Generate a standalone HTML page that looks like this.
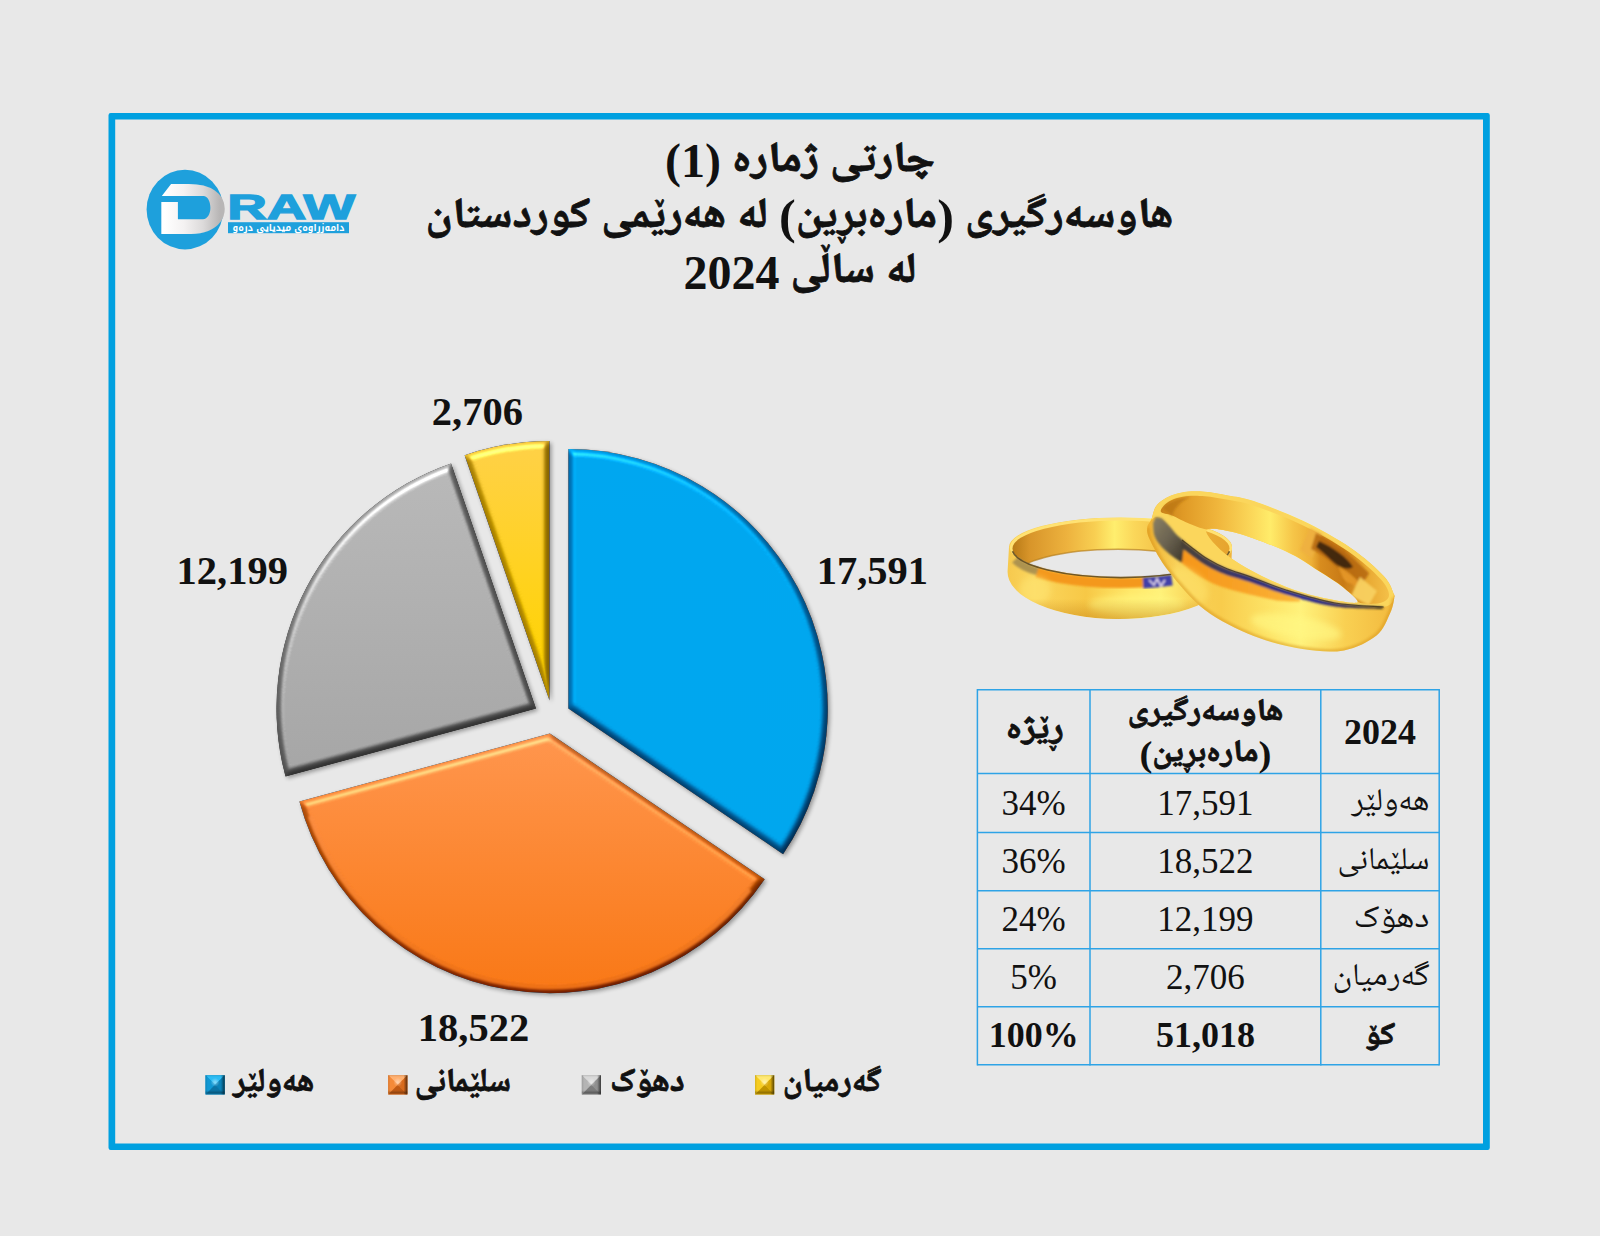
<!DOCTYPE html>
<html lang="ckb"><head><meta charset="utf-8"><title>چارتی ژمارە (1)</title>
<style>
html,body{margin:0;padding:0;background:#e8e8e8;}
body{width:1600px;height:1236px;overflow:hidden;position:relative;}
svg{position:absolute;left:0;top:0;display:block}
text{font-family:"Liberation Serif","Noto Naskh Arabic","DejaVu Sans",serif;fill:#111;}
.b{font-weight:bold}
.ab{font-weight:bold;stroke:#111;stroke-width:.8px;stroke-linejoin:round}
.ns{stroke:none}
</style></head><body>
<svg width="1600" height="1236" viewBox="0 0 1600 1236">
<defs>

<linearGradient id="gB" x1="0" y1="0" x2="0" y2="1"><stop offset="0" stop-color="#05a9f0"/><stop offset="1" stop-color="#05a9ee"/></linearGradient>
<linearGradient id="gO" gradientUnits="userSpaceOnUse" x1="0" y1="733.6" x2="0" y2="993.1"><stop offset="0" stop-color="#ff9956"/><stop offset="1" stop-color="#f97b1e"/></linearGradient>
<linearGradient id="gG" x1="0" y1="0" x2="0" y2="1"><stop offset="0" stop-color="#b9b9b9"/><stop offset="1" stop-color="#a6a6a6"/></linearGradient>
<linearGradient id="gY" x1="0" y1="0" x2="0" y2="1"><stop offset="0" stop-color="#ffd24f"/><stop offset="1" stop-color="#ffd400"/></linearGradient>
<filter id="bev0" x="-10%" y="-10%" width="125%" height="125%" color-interpolation-filters="sRGB">
<feGaussianBlur in="SourceAlpha" stdDeviation="3" result="bl"/>
<feDiffuseLighting in="bl" surfaceScale="5.5" diffuseConstant="1" lighting-color="#fff" result="dif"><feDistantLight azimuth="240" elevation="60"/></feDiffuseLighting>
<feSpecularLighting in="bl" surfaceScale="5.5" specularConstant="0.42" specularExponent="8" lighting-color="#d0f4ff" result="sp"><feDistantLight azimuth="255" elevation="40"/></feSpecularLighting>
<feComposite in="SourceGraphic" in2="dif" operator="arithmetic" k1="0.612" k2="0.47" k3="0" k4="0" result="lit"/>
<feFlood flood-color="#000" result="blk"/><feMerge result="spo"><feMergeNode in="blk"/><feMergeNode in="sp"/></feMerge>
<feComposite in="lit" in2="spo" operator="arithmetic" k1="0" k2="1" k3="1" k4="-0.191" result="lit2"/>
<feComposite in="lit2" in2="SourceAlpha" operator="in" result="fin"/>
<feGaussianBlur in="SourceAlpha" stdDeviation="2" result="sh"/>
<feOffset in="sh" dx="1.6" dy="2.2" result="sho"/>
<feComponentTransfer in="sho" result="sha"><feFuncA type="linear" slope="0.36"/></feComponentTransfer>
<feMerge><feMergeNode in="sha"/><feMergeNode in="fin"/></feMerge>
</filter><filter id="bev1" x="-10%" y="-10%" width="125%" height="125%" color-interpolation-filters="sRGB">
<feGaussianBlur in="SourceAlpha" stdDeviation="3" result="bl"/>
<feDiffuseLighting in="bl" surfaceScale="5.5" diffuseConstant="1" lighting-color="#fff" result="dif"><feDistantLight azimuth="240" elevation="60"/></feDiffuseLighting>
<feSpecularLighting in="bl" surfaceScale="5.5" specularConstant="0.45" specularExponent="8" lighting-color="#fff0d8" result="sp"><feDistantLight azimuth="255" elevation="40"/></feSpecularLighting>
<feComposite in="SourceGraphic" in2="dif" operator="arithmetic" k1="0.462" k2="0.6" k3="0" k4="0" result="lit"/>
<feFlood flood-color="#000" result="blk"/><feMerge result="spo"><feMergeNode in="blk"/><feMergeNode in="sp"/></feMerge>
<feComposite in="lit" in2="spo" operator="arithmetic" k1="0" k2="1" k3="1" k4="-0.205" result="lit2"/>
<feComposite in="lit2" in2="SourceAlpha" operator="in" result="fin"/>
<feGaussianBlur in="SourceAlpha" stdDeviation="2" result="sh"/>
<feOffset in="sh" dx="1.6" dy="2.2" result="sho"/>
<feComponentTransfer in="sho" result="sha"><feFuncA type="linear" slope="0.36"/></feComponentTransfer>
<feMerge><feMergeNode in="sha"/><feMergeNode in="fin"/></feMerge>
</filter><filter id="bev2" x="-10%" y="-10%" width="125%" height="125%" color-interpolation-filters="sRGB">
<feGaussianBlur in="SourceAlpha" stdDeviation="3" result="bl"/>
<feDiffuseLighting in="bl" surfaceScale="5.5" diffuseConstant="1" lighting-color="#fff" result="dif"><feDistantLight azimuth="240" elevation="60"/></feDiffuseLighting>
<feSpecularLighting in="bl" surfaceScale="5.5" specularConstant="0.62" specularExponent="8" lighting-color="#ffffff" result="sp"><feDistantLight azimuth="255" elevation="40"/></feSpecularLighting>
<feComposite in="SourceGraphic" in2="dif" operator="arithmetic" k1="0.370" k2="0.68" k3="0" k4="0" result="lit"/>
<feFlood flood-color="#000" result="blk"/><feMerge result="spo"><feMergeNode in="blk"/><feMergeNode in="sp"/></feMerge>
<feComposite in="lit" in2="spo" operator="arithmetic" k1="0" k2="1" k3="1" k4="-0.282" result="lit2"/>
<feComposite in="lit2" in2="SourceAlpha" operator="in" result="fin"/>
<feGaussianBlur in="SourceAlpha" stdDeviation="2" result="sh"/>
<feOffset in="sh" dx="1.6" dy="2.2" result="sho"/>
<feComponentTransfer in="sho" result="sha"><feFuncA type="linear" slope="0.36"/></feComponentTransfer>
<feMerge><feMergeNode in="sha"/><feMergeNode in="fin"/></feMerge>
</filter><filter id="bev3" x="-10%" y="-10%" width="125%" height="125%" color-interpolation-filters="sRGB">
<feGaussianBlur in="SourceAlpha" stdDeviation="3" result="bl"/>
<feDiffuseLighting in="bl" surfaceScale="5.5" diffuseConstant="1" lighting-color="#fff" result="dif"><feDistantLight azimuth="240" elevation="60"/></feDiffuseLighting>
<feSpecularLighting in="bl" surfaceScale="5.5" specularConstant="0.5" specularExponent="8" lighting-color="#fffbe0" result="sp"><feDistantLight azimuth="255" elevation="40"/></feSpecularLighting>
<feComposite in="SourceGraphic" in2="dif" operator="arithmetic" k1="0.462" k2="0.6" k3="0" k4="0" result="lit"/>
<feFlood flood-color="#000" result="blk"/><feMerge result="spo"><feMergeNode in="blk"/><feMergeNode in="sp"/></feMerge>
<feComposite in="lit" in2="spo" operator="arithmetic" k1="0" k2="1" k3="1" k4="-0.228" result="lit2"/>
<feComposite in="lit2" in2="SourceAlpha" operator="in" result="fin"/>
<feGaussianBlur in="SourceAlpha" stdDeviation="2" result="sh"/>
<feOffset in="sh" dx="1.6" dy="2.2" result="sho"/>
<feComponentTransfer in="sho" result="sha"><feFuncA type="linear" slope="0.36"/></feComponentTransfer>
<feMerge><feMergeNode in="sha"/><feMergeNode in="fin"/></feMerge>
</filter>
<filter id="cb" x="-5%" y="-5%" width="110%" height="110%"><feGaussianBlur stdDeviation="0.9"/></filter>
<linearGradient id="mkr" x1="0" y1="0" x2="1" y2="0"><stop offset="0" stop-color="#000" stop-opacity=".12"/><stop offset=".12" stop-color="#000" stop-opacity="0"/><stop offset=".8" stop-color="#000" stop-opacity="0"/><stop offset="1" stop-color="#000" stop-opacity=".6"/></linearGradient>
<linearGradient id="mkb" x1="0" y1="0" x2="0" y2="1"><stop offset="0" stop-color="#000" stop-opacity=".1"/><stop offset=".1" stop-color="#000" stop-opacity="0"/><stop offset=".78" stop-color="#000" stop-opacity="0"/><stop offset=".9" stop-color="#000" stop-opacity=".22"/><stop offset="1" stop-color="#000" stop-opacity=".05"/></linearGradient>
<radialGradient id="mkh"><stop offset="0" stop-color="#fff" stop-opacity=".45"/><stop offset="1" stop-color="#fff" stop-opacity="0"/></radialGradient>
<linearGradient id="dg" x1="0" y1="0" x2="1" y2="0"><stop offset="0" stop-color="#ffffff"/><stop offset="0.35" stop-color="#f4f2f2"/><stop offset="0.7" stop-color="#dcdada"/><stop offset="1" stop-color="#b8b6b6"/></linearGradient>

</defs>
<rect width="1600" height="1236" fill="#e8e8e8"/>
<path fill="#00a0e0" fill-rule="evenodd" d="M110.7,113 H1487.6 a2.2,2.2 0 0 1 2.2,2.2 V1147.8 a2.2,2.2 0 0 1 -2.2,2.2 H110.7 a2.2,2.2 0 0 1 -2.2,-2.2 V115.2 a2.2,2.2 0 0 1 2.2,-2.2 Z M115.2,119.5 V1143.5 H1483 V119.5 Z"/>
<g>
<ellipse cx="185" cy="209.6" rx="38.4" ry="39.8" fill="#1ea0dc"/>
<text x="164.4" y="227.5" font-size="55.7" textLength="55.2" lengthAdjust="spacingAndGlyphs" style="font-family:'Liberation Sans','DejaVu Sans',sans-serif;font-weight:bold;fill:url(#dg);stroke:url(#dg);stroke-width:12px;stroke-linejoin:miter">D</text>
<path d="M158,181 L173.4,181 L161.8,196 L158,196 Z M158,196 H177.9 V202.1 H158 Z M177.9,196 L203.5,196 C207.5,196 210.4,201.5 210.4,207.8 C210.4,213.5 207.5,219.3 203,219.3 L177.9,219.3 Z" fill="#1ea0dc"/>
<text x="227.2" y="219.2" font-size="35.8" textLength="128" lengthAdjust="spacingAndGlyphs" style="font-family:'Liberation Sans','DejaVu Sans',sans-serif;font-weight:bold;fill:#1ea0dc;stroke:#1ea0dc;stroke-width:1.3px;stroke-linejoin:miter">RAW</text>
<rect x="228" y="222.2" width="121" height="11" fill="#1ea0dc"/>
<text x="288.5" y="230.6" font-size="9.5" text-anchor="middle" direction="rtl" textLength="112" lengthAdjust="spacingAndGlyphs" style="font-family:'Noto Kufi Arabic','Noto Sans Arabic','DejaVu Sans',sans-serif;font-weight:bold;fill:#fff">دامەزراوەی میدیایی درەو</text>
</g>
<g class="ab" font-size="42.5" text-anchor="middle" direction="rtl">
<text x="833.5" y="170.8" textLength="203" lengthAdjust="spacingAndGlyphs">چارتی ژمارە</text>
<text x="799.5" y="226.6" textLength="748" lengthAdjust="spacingAndGlyphs"><tspan>هاوسەرگیری </tspan><tspan class="ns" font-size="48" dy="6.2">(</tspan><tspan dy="-6.2">مارەبڕین</tspan><tspan class="ns" font-size="48" dy="6.2">)</tspan><tspan dy="-6.2"> لە هەرێمی کوردستان</tspan></text>
<text x="853.5" y="282.4" textLength="126" lengthAdjust="spacingAndGlyphs">لە ساڵی</text>
</g>
<text x="693" y="177" font-size="48" text-anchor="middle" class="b">(1)</text>
<text x="731.6" y="288.6" font-size="48" text-anchor="middle" class="b">2024</text>

<path d="M568.3,708.6 L568.3,449.1 A259.5,259.5 0 0 1 783.1,854.2 Z" fill="url(#gB)" filter="url(#bev0)"/>
<path d="M549.9,733.6 L764.7,879.2 A259.5,259.5 0 0 1 299.4,801.5 Z" fill="url(#gO)" filter="url(#bev1)"/>
<path d="M536.0,708.6 L285.5,776.5 A259.5,259.5 0 0 1 451.1,463.4 Z" fill="url(#gG)" filter="url(#bev2)"/>
<path d="M549.5,700.4 L464.6,455.2 A259.5,259.5 0 0 1 549.5,440.9 Z" fill="url(#gY)" filter="url(#bev3)"/>
<path d="M749.7,889.7 A253.6,253.6 0 0 1 310.1,816.2" fill="none" stroke="url(#gO)" stroke-width="4.6" opacity="0.8" filter="url(#cb)"/>

<text x="872.4" y="583.5" font-size="40.5" text-anchor="middle" class="b">17,591</text>
<text x="473.5" y="1040.7" font-size="40.5" text-anchor="middle" class="b">18,522</text>
<text x="232.2" y="583.7" font-size="40.5" text-anchor="middle" class="b">12,199</text>
<text x="477.4" y="424.6" font-size="40.5" text-anchor="middle" class="b">2,706</text>

<g><rect x="205.5" y="1075.2" width="19.2" height="19.2" fill="#1098d4"/><path d="M205.5,1075.2 L224.7,1075.2 L215.1,1084.8Z" fill="#2cbcf4"/><path d="M205.5,1075.2 L215.1,1084.8 L205.5,1094.4Z" fill="#1098d4"/><path d="M224.7,1075.2 L224.7,1094.4 L215.1,1084.8Z" fill="#0b82b8"/><path d="M205.5,1094.4 L215.1,1084.8 L224.7,1094.4Z" fill="#0a74a6"/><rect x="205.5" y="1075.2" width="19.2" height="19.2" fill="url(#mkr)"/><rect x="205.5" y="1075.2" width="19.2" height="19.2" fill="url(#mkb)"/><circle cx="215.1" cy="1082.3" r="4.5" fill="url(#mkh)"/></g>
<text x="273.8" y="1090.7" font-size="33" text-anchor="middle" direction="rtl" class="ab" textLength="81.3" lengthAdjust="spacingAndGlyphs">هەولێر</text>
<g><rect x="388.2" y="1075.2" width="19.2" height="19.2" fill="#f58a38"/><path d="M388.2,1075.2 L407.4,1075.2 L397.8,1084.8Z" fill="#ffb070"/><path d="M388.2,1075.2 L397.8,1084.8 L388.2,1094.4Z" fill="#f58a38"/><path d="M407.4,1075.2 L407.4,1094.4 L397.8,1084.8Z" fill="#d86a1c"/><path d="M388.2,1094.4 L397.8,1084.8 L407.4,1094.4Z" fill="#c05a14"/><rect x="388.2" y="1075.2" width="19.2" height="19.2" fill="url(#mkr)"/><rect x="388.2" y="1075.2" width="19.2" height="19.2" fill="url(#mkb)"/><circle cx="397.8" cy="1082.3" r="4.5" fill="url(#mkh)"/></g>
<text x="462.9" y="1090.7" font-size="33" text-anchor="middle" direction="rtl" class="ab" textLength="96.4" lengthAdjust="spacingAndGlyphs">سلێمانی</text>
<g><rect x="581.8" y="1075.2" width="19.2" height="19.2" fill="#b4b4b4"/><path d="M581.8,1075.2 L601.0,1075.2 L591.4,1084.8Z" fill="#d8d8d8"/><path d="M581.8,1075.2 L591.4,1084.8 L581.8,1094.4Z" fill="#b4b4b4"/><path d="M601.0,1075.2 L601.0,1094.4 L591.4,1084.8Z" fill="#909090"/><path d="M581.8,1094.4 L591.4,1084.8 L601.0,1094.4Z" fill="#7c7c7c"/><rect x="581.8" y="1075.2" width="19.2" height="19.2" fill="url(#mkr)"/><rect x="581.8" y="1075.2" width="19.2" height="19.2" fill="url(#mkb)"/><circle cx="591.4" cy="1082.3" r="4.5" fill="url(#mkh)"/></g>
<text x="647.4" y="1090.7" font-size="33" text-anchor="middle" direction="rtl" class="ab" textLength="74.8" lengthAdjust="spacingAndGlyphs">دهۆک</text>
<g><rect x="755" y="1075.2" width="19.2" height="19.2" fill="#f6cc20"/><path d="M755,1075.2 L774.2,1075.2 L764.6,1084.8Z" fill="#ffe870"/><path d="M755,1075.2 L764.6,1084.8 L755,1094.4Z" fill="#f6cc20"/><path d="M774.2,1075.2 L774.2,1094.4 L764.6,1084.8Z" fill="#d8a808"/><path d="M755,1094.4 L764.6,1084.8 L774.2,1094.4Z" fill="#c09400"/><rect x="755" y="1075.2" width="19.2" height="19.2" fill="url(#mkr)"/><rect x="755" y="1075.2" width="19.2" height="19.2" fill="url(#mkb)"/><circle cx="764.6" cy="1082.3" r="4.5" fill="url(#mkh)"/></g>
<text x="832.1" y="1090.7" font-size="33" text-anchor="middle" direction="rtl" class="ab" textLength="98.8" lengthAdjust="spacingAndGlyphs">گەرمیان</text>

<g><defs>
<filter id="rb1" x="-10%" y="-10%" width="120%" height="120%"><feGaussianBlur stdDeviation="1.1"/></filter>
<filter id="rb2" x="-20%" y="-20%" width="140%" height="140%"><feGaussianBlur stdDeviation="3"/></filter>
<linearGradient id="lg1" x1="0" y1="0" x2="1" y2="0"><stop offset="0" stop-color="#f6c94e"/><stop offset=".12" stop-color="#fbd65e"/><stop offset=".35" stop-color="#f7c846"/><stop offset=".55" stop-color="#ffe96a"/><stop offset=".68" stop-color="#fff27a"/><stop offset=".85" stop-color="#f8cf52"/><stop offset="1" stop-color="#f0b43a"/></linearGradient>
<linearGradient id="lg2" x1="0" y1="0" x2="1" y2="0"><stop offset="0" stop-color="#b87a16"/><stop offset=".08" stop-color="#d8952a"/><stop offset=".25" stop-color="#edb23e"/><stop offset=".38" stop-color="#f8cf52"/><stop offset=".47" stop-color="#ffee6e"/><stop offset=".56" stop-color="#fbd75a"/><stop offset=".75" stop-color="#f0b83e"/><stop offset="1" stop-color="#e6a42e"/></linearGradient>
<linearGradient id="lgv" x1="0" y1="0" x2="0" y2="1"><stop offset="0" stop-color="#000" stop-opacity="0"/><stop offset=".8" stop-color="#c07a10" stop-opacity="0"/><stop offset="1" stop-color="#c07a10" stop-opacity=".45"/></linearGradient>
<linearGradient id="rg1" x1="0" y1="0" x2="1" y2="0"><stop offset="0" stop-color="#efb030"/><stop offset=".12" stop-color="#f9d25a"/><stop offset=".3" stop-color="#f8cc4c"/><stop offset=".5" stop-color="#fde468"/><stop offset=".62" stop-color="#fff27c"/><stop offset=".8" stop-color="#f9d052"/><stop offset="1" stop-color="#f2b93e"/></linearGradient>
<linearGradient id="rg2" x1="0" y1="0" x2="1" y2="0"><stop offset="0" stop-color="#c9821a"/><stop offset=".1" stop-color="#e09a26"/><stop offset=".25" stop-color="#f0b63c"/><stop offset=".4" stop-color="#fbd85a"/><stop offset=".48" stop-color="#ffec6a"/><stop offset=".58" stop-color="#f6c548"/><stop offset=".66" stop-color="#eeb038"/><stop offset=".7" stop-color="#d88c1e"/><stop offset=".8" stop-color="#c87a16"/><stop offset=".9" stop-color="#e8a832"/><stop offset="1" stop-color="#f4c048"/></linearGradient>
<linearGradient id="og" gradientUnits="userSpaceOnUse" x1="1180" y1="0" x2="1300" y2="0"><stop offset="0" stop-color="#f6961a"/><stop offset=".5" stop-color="#f8a226"/><stop offset="1" stop-color="#fbb63a"/></linearGradient>
<linearGradient id="gs" x1="0" y1="0" x2="1" y2="1"><stop offset="0" stop-color="#8a8064"/><stop offset=".5" stop-color="#6a6250"/><stop offset="1" stop-color="#3a3428"/></linearGradient>
<linearGradient id="bl" x1="0" y1="0" x2="1" y2="0"><stop offset="0" stop-color="#4a4234"/><stop offset=".3" stop-color="#3a3570"/><stop offset=".65" stop-color="#2a2890"/><stop offset="1" stop-color="#3a3020"/></linearGradient>
</defs>
<clipPath id="lclip"><path d="M1009,547 A111.5,29.6 0 0 1 1232,547 L1231,573 A111.5,47 0 0 1 1007.6,571 Z"/></clipPath>
<clipPath id="lU"><ellipse cx="1121" cy="548" rx="109" ry="29"/></clipPath>
<g>
<path d="M1009,547 A111.5,29.6 0 0 1 1232,547 L1231,573 A111.5,47 0 0 1 1007.6,571 Z" fill="url(#lg1)"/>
<g clip-path="url(#lclip)">
<ellipse cx="1121" cy="547.4" rx="111.2" ry="30" fill="#ffe273"/>
<ellipse cx="1121" cy="548.6" rx="108.5" ry="28.2" fill="url(#lg2)"/>
<g clip-path="url(#lU)"><ellipse cx="1118" cy="577.4" rx="104" ry="28.2" fill="#e8e8e8"/>
<ellipse cx="1118" cy="577.4" rx="104" ry="28.2" fill="none" stroke="#b8801e" stroke-width="1.6" opacity=".7"/></g>
<g filter="url(#rb1)">
<path d="M1015,554.8 A109,29 0 0 0 1040,567.4" fill="none" stroke="#ad9350" stroke-width="8" transform="translate(0,5)"/>
<path d="M1037,566.5 A109,29 0 0 0 1146,576.2" fill="none" stroke="#f4981c" stroke-width="10" transform="translate(0,6)"/>
<path d="M1143,576.4 A109,29 0 0 0 1172,573.6" fill="none" stroke="#4340a8" stroke-width="11" transform="translate(0,6.5)"/>
<path d="M1149,580 l5,5 l3,-6 l4,7 l4,-6" fill="none" stroke="#e8dcf0" stroke-width="1.6"/>
</g>
<path d="M1012.5,550.8 A109,29 0 0 0 1229.5,550.8" fill="none" stroke="#4e3c1c" stroke-width="1.7" opacity=".8" transform="translate(0,.5)"/>
<ellipse cx="1136" cy="605" rx="48" ry="10" fill="#fff680" opacity=".6" filter="url(#rb2)"/>
<ellipse cx="1035" cy="590" rx="16" ry="14" fill="#ffe878" opacity=".5" filter="url(#rb2)"/>
<path d="M1009,547 A111.5,29.6 0 0 1 1232,547 L1231,573 A111.5,47 0 0 1 1007.6,571 Z" fill="url(#lgv)"/>
</g></g>
<g>
<clipPath id="rclip"><path d="M1151.5,519.0 C1152.9,515.5 1153.5,510.2 1155.5,507.0 C1157.5,503.8 1160.4,501.6 1163.5,499.5 C1166.6,497.4 1169.9,495.8 1174.0,494.5 C1178.1,493.2 1182.8,492.1 1188.0,491.6 C1193.2,491.2 1198.3,491.2 1205.0,491.8 C1211.7,492.4 1219.9,493.9 1228.0,495.5 C1236.1,497.1 1241.3,496.9 1253.7,501.1 C1266.1,505.3 1286.2,512.8 1302.5,520.6 C1318.8,528.5 1337.7,539.0 1351.2,548.2 C1364.7,557.4 1376.6,568.3 1383.7,575.9 C1390.8,583.5 1391.9,590.0 1393.7,593.7 C1395.5,597.4 1394.9,594.8 1394.3,598.0 C1393.7,601.2 1393.2,606.8 1390.2,613.0 C1387.2,619.2 1384.2,629.3 1376.5,635.5 C1368.8,641.7 1356.3,648.1 1344.0,650.4 C1331.7,652.6 1317.5,651.4 1302.5,649.0 C1287.5,646.6 1270.0,642.5 1253.7,636.0 C1237.5,629.5 1219.2,620.8 1205.0,610.0 C1190.8,599.2 1177.6,582.5 1168.5,571.0 C1159.4,559.5 1154.0,548.2 1150.5,541.0 C1147.0,533.8 1147.0,531.7 1147.2,528.0 C1147.4,524.3 1150.1,522.5 1151.5,519.0Z M1207.0,529.5 C1210.6,527.5 1224.3,529.5 1237.5,533.2 C1250.7,536.9 1272.7,545.2 1286.2,551.5 C1299.7,557.8 1309.2,565.0 1318.7,571.0 C1328.2,577.0 1336.5,582.0 1343.0,587.2 C1349.5,592.4 1359.0,599.8 1357.7,602.0 C1356.4,604.2 1344.2,601.8 1335.0,600.2 C1325.8,598.6 1313.3,596.0 1302.5,592.6 C1291.7,589.2 1280.8,585.0 1270.0,580.0 C1259.2,575.0 1246.5,568.2 1237.5,562.5 C1228.5,556.8 1221.1,551.0 1216.0,545.5 C1210.9,540.0 1203.4,531.5 1207.0,529.5Z" clip-rule="evenodd"/></clipPath>
<path d="M1151.5,519.0 C1152.9,515.5 1153.5,510.2 1155.5,507.0 C1157.5,503.8 1160.4,501.6 1163.5,499.5 C1166.6,497.4 1169.9,495.8 1174.0,494.5 C1178.1,493.2 1182.8,492.1 1188.0,491.6 C1193.2,491.2 1198.3,491.2 1205.0,491.8 C1211.7,492.4 1219.9,493.9 1228.0,495.5 C1236.1,497.1 1241.3,496.9 1253.7,501.1 C1266.1,505.3 1286.2,512.8 1302.5,520.6 C1318.8,528.5 1337.7,539.0 1351.2,548.2 C1364.7,557.4 1376.6,568.3 1383.7,575.9 C1390.8,583.5 1391.9,590.0 1393.7,593.7 C1395.5,597.4 1394.9,594.8 1394.3,598.0 C1393.7,601.2 1393.2,606.8 1390.2,613.0 C1387.2,619.2 1384.2,629.3 1376.5,635.5 C1368.8,641.7 1356.3,648.1 1344.0,650.4 C1331.7,652.6 1317.5,651.4 1302.5,649.0 C1287.5,646.6 1270.0,642.5 1253.7,636.0 C1237.5,629.5 1219.2,620.8 1205.0,610.0 C1190.8,599.2 1177.6,582.5 1168.5,571.0 C1159.4,559.5 1154.0,548.2 1150.5,541.0 C1147.0,533.8 1147.0,531.7 1147.2,528.0 C1147.4,524.3 1150.1,522.5 1151.5,519.0Z M1207.0,529.5 C1210.6,527.5 1224.3,529.5 1237.5,533.2 C1250.7,536.9 1272.7,545.2 1286.2,551.5 C1299.7,557.8 1309.2,565.0 1318.7,571.0 C1328.2,577.0 1336.5,582.0 1343.0,587.2 C1349.5,592.4 1359.0,599.8 1357.7,602.0 C1356.4,604.2 1344.2,601.8 1335.0,600.2 C1325.8,598.6 1313.3,596.0 1302.5,592.6 C1291.7,589.2 1280.8,585.0 1270.0,580.0 C1259.2,575.0 1246.5,568.2 1237.5,562.5 C1228.5,556.8 1221.1,551.0 1216.0,545.5 C1210.9,540.0 1203.4,531.5 1207.0,529.5Z" fill="url(#rg1)" fill-rule="evenodd"/>
<g clip-path="url(#rclip)">
<path d="M1151.5,519.0 C1151.5,517.4 1153.5,510.2 1155.5,507.0 C1157.5,503.8 1160.4,501.6 1163.5,499.5 C1166.6,497.4 1169.9,495.8 1174.0,494.5 C1178.1,493.2 1182.8,492.1 1188.0,491.6 C1193.2,491.2 1198.3,491.2 1205.0,491.8 C1211.7,492.4 1219.9,493.9 1228.0,495.5 C1236.1,497.1 1241.3,496.9 1253.7,501.1 C1266.1,505.3 1286.2,512.8 1302.5,520.6 C1318.8,528.5 1337.7,539.0 1351.2,548.2 C1364.7,557.4 1376.6,568.3 1383.7,575.9 C1390.8,583.5 1393.7,588.5 1393.7,593.7 C1393.7,598.9 1393.5,605.5 1383.7,607.0 C1373.9,608.5 1351.3,605.8 1335.0,603.0 C1318.7,600.2 1300.2,594.4 1286.0,590.0 C1271.8,585.6 1259.8,580.1 1250.0,576.6 C1240.2,573.1 1234.0,571.7 1227.0,568.8 C1220.0,565.9 1213.7,562.8 1207.7,559.1 C1201.7,555.5 1195.0,549.9 1191.0,546.9 C1187.0,543.9 1186.1,543.2 1183.7,541.1 C1181.3,539.0 1178.8,537.0 1176.4,534.5 C1174.0,532.0 1171.5,528.4 1169.1,525.8 C1166.7,523.1 1164.0,520.1 1161.8,518.6 C1159.6,517.1 1157.4,516.8 1155.7,516.9 C1154.0,517.0 1151.5,520.6 1151.5,519.0Z" fill="#fbd65c"/>
<path d="M1161.0,512.0 C1159.8,510.2 1162.8,506.7 1165.0,504.5 C1167.2,502.3 1170.2,500.4 1174.0,499.0 C1177.8,497.6 1182.8,496.5 1188.0,496.0 C1193.2,495.5 1198.3,495.6 1205.0,496.2 C1211.7,496.8 1220.0,498.2 1228.0,499.8 C1236.0,501.4 1240.8,501.4 1253.0,505.5 C1265.2,509.6 1285.0,516.8 1301.0,524.5 C1317.0,532.2 1335.8,543.0 1349.0,552.0 C1362.2,561.0 1373.3,571.3 1380.0,578.5 C1386.7,585.7 1389.0,590.9 1389.0,595.0 C1389.0,599.1 1385.2,601.8 1380.0,603.0 C1374.8,604.2 1363.9,604.6 1357.7,602.0 C1351.5,599.4 1349.5,592.4 1343.0,587.2 C1336.5,582.0 1328.2,577.0 1318.7,571.0 C1309.2,565.0 1299.7,557.8 1286.2,551.5 C1272.7,545.2 1250.7,536.9 1237.5,533.2 C1224.3,529.5 1214.9,531.0 1207.0,529.5 C1199.1,528.0 1195.8,526.3 1190.0,524.0 C1184.2,521.7 1176.8,517.5 1172.0,515.5 C1167.2,513.5 1162.2,513.8 1161.0,512.0Z" fill="url(#rg2)"/>
<g filter="url(#rb1)">
<path d="M1310,528 L1322,534 L1312,558 L1300,550 Z" fill="#eeb040" opacity=".9"/>
<path d="M1316,533 C1332,541 1352,556 1369,573 C1366,581 1358,587 1350,585 C1344,571 1328,557 1311,549 Z" fill="#b4660f" opacity=".85"/>
<path d="M1319,541 C1334,548 1347,557 1353,567 C1347,571 1338,567 1332,561 C1326,555 1320,550 1316,547Z" fill="#2e1c0c" opacity=".85"/>
<path d="M1338,566 C1346,570 1356,578 1362,586 C1356,588 1348,584 1343,578Z" fill="#e89a28" opacity=".9"/>
<path d="M1360,577 L1377,591 L1369,605 L1351,596 Z" fill="#f8d060" opacity=".95"/>
<path d="M1163,508 C1168,502 1178,498 1190,497 C1180,502 1174,508 1172,516 Z" fill="#b87414" opacity=".7"/>
</g>
<g filter="url(#rb1)">
<path d="M1181.0,548.5 C1182.4,549.4 1185.3,551.0 1189.5,553.9 C1193.7,556.8 1200.2,562.2 1206.2,565.7 C1212.2,569.2 1218.5,572.1 1225.5,574.8 C1232.5,577.5 1238.7,578.6 1248.5,581.8 C1258.3,585.0 1275.9,591.2 1284.5,594.2 C1293.1,597.2 1297.4,598.6 1300.0,599.5 L1300.0,601.5 C1296.7,601.4 1287.8,601.8 1280.0,600.8 C1272.2,599.8 1260.5,596.8 1253.3,595.2 C1246.1,593.6 1242.8,592.9 1236.8,591.2 C1230.8,589.6 1223.9,587.9 1217.4,585.3 C1210.9,582.7 1204.2,579.5 1198.0,575.6 C1191.8,571.7 1183.4,564.3 1180.5,562.0Z" fill="url(#og)"/>
<path d="M1155.7,516.9 C1156.7,517.2 1159.6,517.1 1161.8,518.6 C1164.0,520.1 1166.7,523.1 1169.1,525.8 C1171.5,528.4 1173.8,531.9 1176.4,534.5 C1179.0,537.1 1183.2,540.4 1184.5,541.6 L1182.0,562.6 C1180.5,561.6 1176.2,559.0 1172.8,556.4 C1169.4,553.8 1164.8,550.3 1161.8,546.9 C1158.8,543.5 1156.0,540.0 1154.6,536.0 C1153.1,532.0 1153.3,525.1 1153.1,522.9Z" fill="url(#gs)"/>
<path d="M1182.0,540.0 C1183.5,541.1 1186.7,543.7 1191.0,546.9 C1195.3,550.1 1201.7,555.5 1207.7,559.1 C1213.7,562.8 1220.0,565.9 1227.0,568.8 C1234.0,571.7 1240.2,573.1 1250.0,576.6 C1259.8,580.1 1271.8,585.6 1286.0,590.0 C1300.2,594.4 1318.7,600.2 1335.0,603.0 C1351.3,605.8 1375.6,606.3 1383.7,607.0 L1382.2,609.0 C1374.1,608.5 1349.8,608.7 1333.5,606.2 C1317.2,603.7 1298.7,598.3 1284.5,594.2 C1270.3,590.1 1258.3,585.0 1248.5,581.8 C1238.7,578.6 1232.5,577.5 1225.5,574.8 C1218.5,572.1 1212.2,569.2 1206.2,565.7 C1200.2,562.2 1193.8,557.0 1189.5,553.9 C1185.2,550.8 1182.0,548.3 1180.5,547.2Z" fill="url(#bl)"/>
</g>
<path d="M1182.0,540.0 C1183.5,541.1 1186.7,543.7 1191.0,546.9 C1195.3,550.1 1201.7,555.5 1207.7,559.1 C1213.7,562.8 1220.0,565.9 1227.0,568.8 C1234.0,571.7 1240.2,573.1 1250.0,576.6 C1259.8,580.1 1271.8,585.6 1286.0,590.0 C1300.2,594.4 1318.7,600.2 1335.0,603.0 C1351.3,605.8 1375.6,606.3 1383.7,607.0" fill="none" stroke="#2a2014" stroke-width="1.2" opacity=".65"/>
<ellipse cx="1296" cy="627" rx="46" ry="11" fill="#fff884" opacity=".65" transform="rotate(10 1296 627)" filter="url(#rb2)"/>
<ellipse cx="1190" cy="585" rx="22" ry="13" fill="#ffe670" opacity=".5" transform="rotate(45 1190 585)" filter="url(#rb2)"/>
<path d="M1394.3,598.0 C1393.6,600.5 1393.2,606.8 1390.2,613.0 C1387.2,619.2 1384.2,629.3 1376.5,635.5 C1368.8,641.7 1356.3,648.1 1344.0,650.4 C1331.7,652.6 1317.5,651.4 1302.5,649.0 C1287.5,646.6 1270.0,642.5 1253.7,636.0 C1237.5,629.5 1219.2,620.8 1205.0,610.0 C1190.8,599.2 1177.6,582.5 1168.5,571.0 C1159.4,559.5 1154.0,548.2 1150.5,541.0 C1147.0,533.8 1147.8,530.2 1147.2,528.0" fill="none" stroke="#d8961e" stroke-width="5" opacity=".5" filter="url(#rb1)"/>
</g></g></g>
<line x1="977.4" y1="689.05" x2="977.4" y2="1065.55" stroke="#2ea3e6" stroke-width="1.5"/><line x1="1090" y1="689.05" x2="1090" y2="1065.55" stroke="#2ea3e6" stroke-width="1.5"/><line x1="1320.8" y1="689.05" x2="1320.8" y2="1065.55" stroke="#2ea3e6" stroke-width="1.5"/><line x1="1439.2" y1="689.05" x2="1439.2" y2="1065.55" stroke="#2ea3e6" stroke-width="1.5"/><line x1="977.4" y1="689.8" x2="1439.2" y2="689.8" stroke="#2ea3e6" stroke-width="1.5"/><line x1="977.4" y1="773.6" x2="1439.2" y2="773.6" stroke="#2ea3e6" stroke-width="1.5"/><line x1="977.4" y1="832.6" x2="1439.2" y2="832.6" stroke="#2ea3e6" stroke-width="1.5"/><line x1="977.4" y1="890.7" x2="1439.2" y2="890.7" stroke="#2ea3e6" stroke-width="1.5"/><line x1="977.4" y1="948.8" x2="1439.2" y2="948.8" stroke="#2ea3e6" stroke-width="1.5"/><line x1="977.4" y1="1006.8" x2="1439.2" y2="1006.8" stroke="#2ea3e6" stroke-width="1.5"/><line x1="977.4" y1="1064.8" x2="1439.2" y2="1064.8" stroke="#2ea3e6" stroke-width="1.5"/>
<text x="1380.0" y="744" font-size="36" text-anchor="middle" class="b">2024</text>
<text x="1205.4" y="719.8" font-size="31" text-anchor="middle" direction="rtl" class="ab" textLength="156" lengthAdjust="spacingAndGlyphs">هاوسەرگیری</text>
<text x="1205.4" y="760.6" font-size="31" text-anchor="middle" direction="rtl" class="ab" textLength="132" lengthAdjust="spacingAndGlyphs"><tspan class="ns" font-size="36" dy="4.9">(</tspan><tspan dy="-4.9">مارەبڕین</tspan><tspan class="ns" font-size="36" dy="4.9">)</tspan></text>
<text x="1034.7" y="737.6" font-size="33" text-anchor="middle" direction="rtl" class="ab" textLength="58" lengthAdjust="spacingAndGlyphs">ڕێژە</text>
<text x="1429.5" y="810.3" font-size="31.5" text-anchor="end" class="" textLength="78" lengthAdjust="spacingAndGlyphs">هەولێر</text><text x="1205.4" y="814.7" font-size="35" text-anchor="middle" class="">17,591</text>
<text x="1033.7" y="814.7" font-size="35" text-anchor="middle" class="">34%</text>
<text x="1429.5" y="868.9" font-size="31.5" text-anchor="end" class="" textLength="92" lengthAdjust="spacingAndGlyphs">سلێمانی</text><text x="1205.4" y="873.3" font-size="35" text-anchor="middle" class="">18,522</text>
<text x="1033.7" y="873.3" font-size="35" text-anchor="middle" class="">36%</text>
<text x="1429.5" y="927.0" font-size="31.5" text-anchor="end" class="" textLength="76" lengthAdjust="spacingAndGlyphs">دهۆک</text><text x="1205.4" y="931.4" font-size="35" text-anchor="middle" class="">12,199</text>
<text x="1033.7" y="931.4" font-size="35" text-anchor="middle" class="">24%</text>
<text x="1429.5" y="985.0" font-size="31.5" text-anchor="end" class="" textLength="97" lengthAdjust="spacingAndGlyphs">گەرمیان</text><text x="1205.4" y="989.4" font-size="35" text-anchor="middle" class="">2,706</text>
<text x="1033.7" y="989.4" font-size="35" text-anchor="middle" class="">5%</text>
<text x="1380.0" y="1044.4" font-size="31" text-anchor="middle" class="ab" textLength="30.5" lengthAdjust="spacingAndGlyphs">کۆ</text><text x="1205.4" y="1047.4" font-size="36" text-anchor="middle" class="b">51,018</text>
<text x="1033.7" y="1047.4" font-size="36" text-anchor="middle" class="b">100%</text>

</svg>
</body></html>
